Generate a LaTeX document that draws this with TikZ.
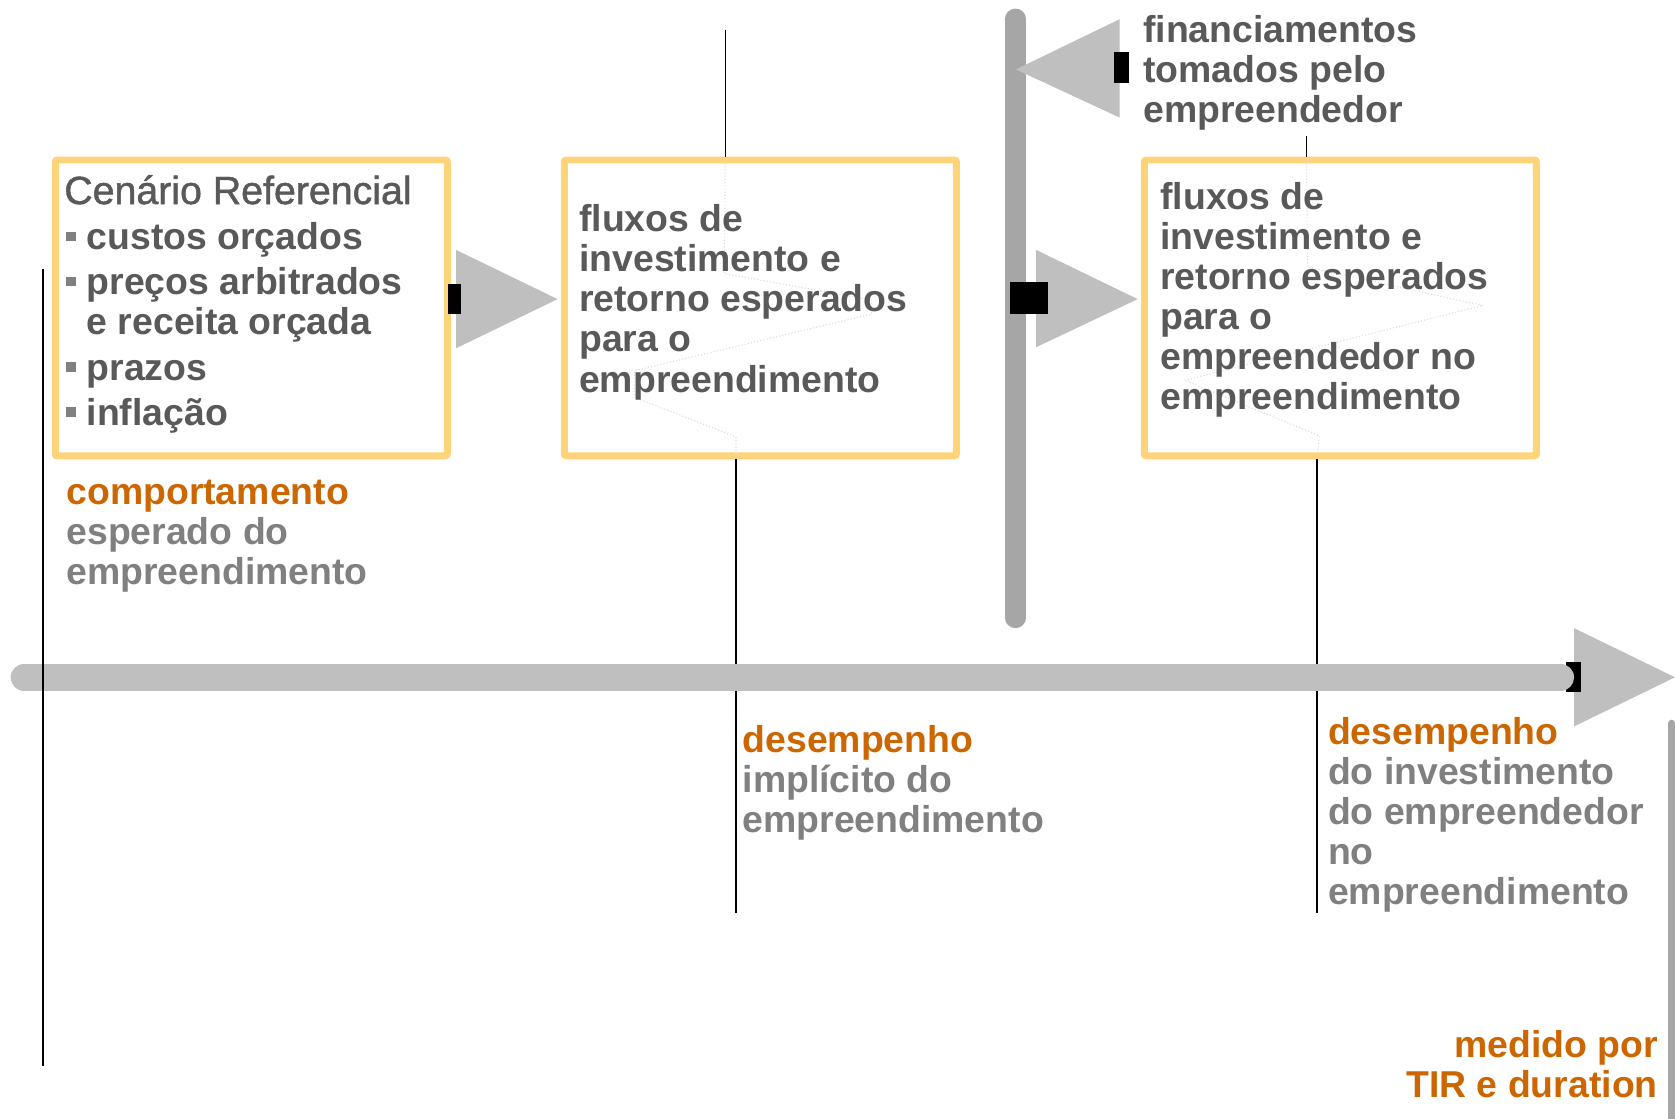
\documentclass[tikz,border=0pt]{standalone}
\usepackage{fontspec}
\setmainfont{Liberation Sans}
\newfontfamily\titlefont{Liberation Sans}[BoldFont={Liberation Sans}, BoldFeatures={FakeBold=1.2}]
\definecolor{boxedge}{HTML}{FFD37A}
\definecolor{txtdark}{HTML}{595959}
\definecolor{txtgray}{HTML}{808080}
\definecolor{txtorange}{HTML}{CC6600}
\definecolor{lightbar}{HTML}{BFBFBF}
\definecolor{darkbar}{HTML}{A6A6A6}
\definecolor{faintline}{HTML}{DADADA}
\newcommand{\bsq}{{\color{txtgray}\rule[8pt]{9pt}{9pt}}\hspace{10pt}}
\begin{document}
\begin{tikzpicture}[x=1pt,y=-1pt,
  framebox/.style={draw=boxedge, line width=6.5pt, fill=white, inner sep=0pt,
    rounded corners=2pt, minimum width=367pt, minimum height=277pt, anchor=north west},
  boxtxt/.style={anchor=base west, inner sep=0pt, align=left, text=txtdark,
    font=\fontsize{35}{37.5}\selectfont\bfseries},
  labtxt/.style={anchor=base west, inner sep=0pt, align=left, text=txtgray,
    font=\fontsize{35}{37.5}\selectfont\bfseries},
  thinline/.style={draw=black, line width=1.5pt},
  faintzig/.style={draw=faintline, line width=1pt, dotted},
  bigtri/.style={fill=lightbar},
  blk/.style={fill=black}]
\useasboundingbox (0,0) rectangle (1568,1047);

% connector end points
\coordinate (l1top) at (40,252);
\coordinate (l1bot) at (40,998);
\coordinate (l2top) at (679,28);
\coordinate (l2bot) at (689,855);
\coordinate (l3top) at (1223,127);
\coordinate (l3bot) at (1233,855);

% boxes
\node[framebox] (box1) at (48.5,146.5) {};
\node[framebox] (box2) at (525,146.5) {};
\node[framebox] (box3) at (1068,146.5) {};

% faint zigzag connectors inside boxes
\draw[faintzig] (l2top |- box2.north) -- (678,256) -- (816,281) -- (816,294)
  -- (594,347) -- (594,372) -- (689,409) -- (l2bot |- box2.south);
\draw[faintzig] (l3top |- box3.north) -- (1224,250) -- (1388,286)
  -- (1109,356) -- (1235,408) -- (l3bot |- box3.south);

% thin lines behind the timeline bar
\draw[thinline] (l2top) -- (l2top |- box2.north);
\draw[thinline] (l2bot |- box2.south) -- (l2bot);
\draw[thinline] (l3top) -- (l3top |- box3.north);
\draw[thinline] (l3bot |- box3.south) -- (l3bot);

% arrow box1 -> box2
\coordinate (aTip) at (522,280);
\fill[bigtri] (427,234) -- (aTip) -- (427,326) -- cycle;
\fill[blk] (419,266) rectangle (432,294);

% vertical bar (financing)
\coordinate (vbTop) at (950.5,17.5);
\coordinate (vbBot) at (950.5,578.5);
\draw[darkbar, line width=19pt, line cap=round] (vbTop) -- (vbBot);
\coordinate (cTip) at (951,65);
\fill[bigtri] (1048,18) -- (cTip) -- (1048,110) -- cycle;
\fill[blk] (1043,49) rectangle (1057,78);
\coordinate (bTip) at (1065,280);
\fill[bigtri] (970,234) -- (bTip) -- (970,325) -- cycle;
\fill[blk] (945,264) rectangle (981,294);

% timeline
\coordinate (tlStart) at (22.5,634);
\coordinate (tlEnd) at (1461,634);
\coordinate (tlTip) at (1568,634);
\fill[bigtri] (1473.5,588) -- (tlTip) -- (1473.5,680) -- cycle;
\fill[blk] (1466,620) rectangle (1480,648);
\draw[lightbar, line width=25pt, line cap=round] (tlStart) -- (tlEnd);

% left thin line over the bar
\draw[thinline] (l1top) -- (l1bot);

% right vertical line
\coordinate (rlTop) at (1565,677);
\coordinate (rlBot) at (1565,1060);
\draw[darkbar, line width=6.5pt, line cap=round] (rlTop) -- (rlBot);

% box 1 text
\node[anchor=base west, inner sep=0pt, text=txtdark,
  font=\fontsize{36.8}{37.5}\selectfont\titlefont\bfseries] (c0) at (60,191) {Cenário Referencial};
\node[boxtxt] (c1) at (62,234) {\bsq custos orçados};
\node[boxtxt] (c2) at (62,276) {\bsq preços arbitrados};
\node[boxtxt] (c3) at (81,313) {e receita orçada};
\node[boxtxt] (c4) at (62,356) {\bsq prazos};
\node[boxtxt] (c5) at (62,398) {\bsq inflação};

% box 2 text (anchor = baseline of last line)
\node[boxtxt] (f1) at (542,367) {fluxos de\\investimento e\\retorno esperados\\para o\\empreendimento};
% box 3 text
\node[boxtxt] (f2) at (1086,383.5) {fluxos de\\investimento e\\retorno esperados\\para o\\empreendedor no\\empreendimento};
% financing text
\node[boxtxt] (fin) at (1070,115) {financiamentos\\tomados pelo\\empreendedor};

% labels
\node[labtxt] (comp) at (62,547) {\textcolor{txtorange}{comportamento}\\esperado do\\empreendimento};
\node[labtxt] (des1) at (695,779) {\textcolor{txtorange}{desempenho}\\implícito do\\empreendimento};
\node[labtxt] (des2) at (1243,847) {\textcolor{txtorange}{desempenho}\\do investimento\\do empreendedor\\no\\empreendimento};
\node[anchor=base east, inner sep=0pt, align=right, text=txtorange,
  font=\fontsize{35}{37.5}\selectfont\bfseries] (med) at (1552,1027.5) {medido por\\TIR e duration};
\end{tikzpicture}
\end{document}
